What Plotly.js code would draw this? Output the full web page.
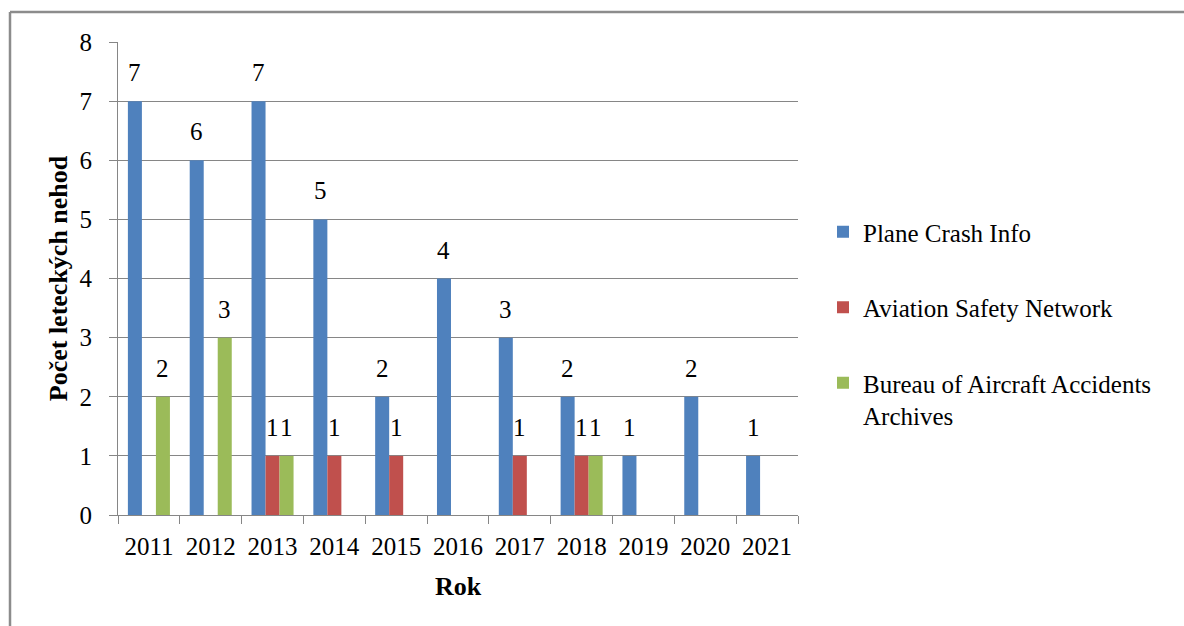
<!DOCTYPE html>
<html>
<head>
<meta charset="utf-8">
<script src="https://cdn.plot.ly/plotly-3.0.1.min.js"></script>
<style>html,body{margin:0;padding:0;background:#fff;}#chart{width:1184px;height:626px;}</style>
</head>
<body>
<div id="chart"></div>
<script>
const years = ['2011','2012','2013','2014','2015','2016','2017','2018','2019','2020','2021'];
const planeCrashInfo = [7,6,7,5,2,4,3,2,1,2,1];
const aviationSafetyNetwork = [0,0,1,1,1,0,1,1,0,0,0];
const bureauAircraftAccidents = [2,3,1,0,0,0,0,1,0,0,0];
const seriesNames = ['Plane Crash Info','Aviation Safety Network','Bureau of Aircraft Accidents<br>Archives'];
const seriesColors = ['#4F81BD','#C0504D','#9BBB59'];
const seriesValues = [planeCrashInfo, aviationSafetyNetwork, bureauAircraftAccidents];

const FONT = "'Liberation Serif', 'Times New Roman', serif";
const FS = 25;
const bargap = 0.32;

const traces = seriesValues.map((vals, j) => ({
  type: 'bar',
  x: years,
  y: vals,
  name: seriesNames[j],
  legendgroup: 'g' + j,
  marker: {color: seriesColors[j]},
  hoverinfo: 'none'
}));

const annotations = [];
const slot = (1 - bargap) / 3;
seriesValues.forEach((vals, j) => {
  vals.forEach((v, i) => {
    if (v > 0) {
      annotations.push({
        xref: 'x', yref: 'y',
        x: i + (j - 1) * slot,
        y: v,
        text: String(v),
        showarrow: false,
        yanchor: 'bottom',
        yshift: 13,
        font: {family: FONT, size: FS, color: '#000'}
      });
    }
  });
});

const X0 = 118, X1 = 798, Y0 = 42, Y1 = 515;
const px = p => (p - X0) / (X1 - X0);
const py = p => (Y1 - p) / (Y1 - Y0);

const layout = {
  width: 1184, height: 626,
  margin: {l: X0, r: 1184 - X1, t: Y0, b: 626 - Y1, autoexpand: false},
  paper_bgcolor: '#fff', plot_bgcolor: '#fff',
  barmode: 'group',
  bargap: bargap,
  bargroupgap: 0,
  showlegend: true,
  font: {family: FONT, size: FS, color: '#000'},
  xaxis: {
    type: 'category',
    showline: true, linecolor: '#868686', linewidth: 1,
    ticks: 'outside', tickson: 'boundaries', ticklen: 8, tickcolor: '#868686',
    tickfont: {family: FONT, size: FS, color: '#000'},
    ticklabelstandoff: 9,
    showgrid: false,
    title: {text: 'Rok', font: {family: FONT, size: 26, color: '#000', weight: 'bold'}, standoff: 17},
    automargin: false,
    fixedrange: true
  },
  yaxis: {
    range: [0, 8], dtick: 1,
    showline: true, linecolor: '#868686', linewidth: 1,
    ticks: 'outside', ticklen: 8, tickcolor: '#868686',
    tickfont: {family: FONT, size: FS, color: '#000'},
    ticklabelstandoff: 12,
    showgrid: true, gridcolor: '#868686', gridwidth: 1,
    zeroline: false,
    title: {text: 'Počet leteckých nehod', font: {family: FONT, size: 26, color: '#000', weight: 'bold'}, standoff: 4},
    automargin: false,
    fixedrange: true
  },
  legend: {
    x: px(823), xanchor: 'left',
    y: py(209), yanchor: 'top',
    font: {family: FONT, size: FS, color: '#000'},
    bgcolor: 'rgba(0,0,0,0)',
    traceorder: 'grouped',
    tracegroupgap: 40,
    valign: 'top',
    itemwidth: 30,
    itemclick: false, itemdoubleclick: false
  },
  annotations: annotations,
  shapes: [
    {type: 'line', xref: 'paper', yref: 'paper', x0: px(10), x1: px(10), y0: py(12), y1: py(640), line: {color: '#8c8c8c', width: 2.5}},
    {type: 'line', xref: 'paper', yref: 'paper', x0: px(10), x1: px(1200), y0: py(12), y1: py(12), line: {color: '#8c8c8c', width: 2.5}}
  ]
};

Plotly.newPlot('chart', traces, layout, {displayModeBar: false, staticPlot: true});
</script>
</body>
</html>
